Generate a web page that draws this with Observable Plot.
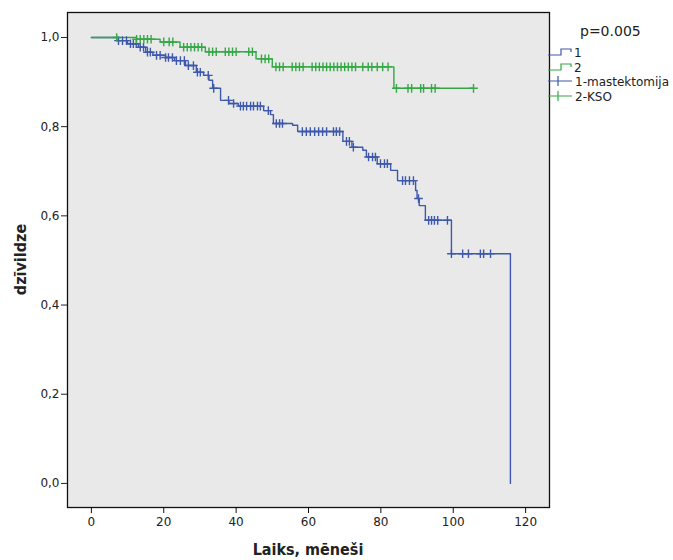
<!DOCTYPE html>
<html><head><meta charset="utf-8">
<script src="https://cdn.jsdelivr.net/npm/d3@7"></script>
<script src="https://cdn.jsdelivr.net/npm/@observablehq/plot@0.6"></script>
<style>body{margin:0;background:#fff;}</style>
</head><body><div id="chart"></div>
<script>
// ---- data ----
const groupNames = ["1-mastektomija", "2-KSO"];
const stepNames = ["1", "2"];
const groupColors = ["#3E58AC", "#34A845"];
const pValueText = "p=0.005";
const xTicks = [0, 20, 40, 60, 80, 100, 120];
const yTicks = [0, 0.2, 0.4, 0.6, 0.8, 1.0];
const xLabel = "Laiks, mēneši";
const yLabel = "dzīvildze";

// group 1: mastektomija — step times and survival
const mastTimes = [0, 7, 10, 13, 15, 17, 20.5, 23, 26, 29, 31, 32.5, 33.5, 35.7, 38, 40.6, 47.6, 49.5, 50.3, 55.6, 57, 69.5, 72, 75, 76, 79, 82.7, 84.6, 89.6, 90, 90.6, 92.3, 99.5, 115.8];
const mastSurv  = [1, 0.993, 0.986, 0.978, 0.967, 0.96, 0.955, 0.948, 0.937, 0.922, 0.915, 0.904, 0.886, 0.859, 0.852, 0.846, 0.836, 0.827, 0.807, 0.803, 0.789, 0.767, 0.754, 0.747, 0.732, 0.717, 0.702, 0.679, 0.657, 0.639, 0.623, 0.59, 0.515, 0];
const mastCensor = [7.5, 8.6, 9.7, 10.8, 11.6, 12.4, 13.5, 14.4, 15.5, 16.3, 18, 19, 20.5, 21.3, 22.4, 23.5, 24.6, 25.7, 26.8, 28.2, 29.3, 30.1, 32.3, 33.8, 37.9, 39.3, 41.2, 42, 42.9, 44, 44.8, 45.9, 46.7, 48.9, 51.1, 52, 52.8, 58.3, 59.4, 60.5, 61.7, 62.8, 63.9, 65, 66.9, 67.7, 68.6, 70.5, 71.3, 72.4, 76.6, 77.7, 78.5, 79.9, 81, 81.8, 86, 86.8, 87.9, 89, 90.4, 93.2, 94, 94.8, 95.7, 98.4, 99.5, 102.6, 104.2, 107.5, 108.4, 110.3];

// group 2: KSO
const ksoTimes = [0, 12.5, 19, 24.5, 31.5, 45.5, 50, 83.6, 105.6];
const ksoSurv  = [1, 0.996, 0.99, 0.978, 0.968, 0.952, 0.934, 0.886, 0.886];
const ksoCensor = [7, 12.5, 13.5, 14.5, 15.5, 16.5, 20, 21.5, 22.5, 25.5, 26.5, 27.5, 28.5, 29.5, 30.5, 32.5, 33.5, 34.5, 37, 38, 39, 40, 43.5, 44.5, 47, 48, 49, 51, 52, 53, 55.5, 56.5, 57.5, 58.5, 61, 62, 63, 64, 65, 66, 67, 68, 69, 70, 71, 72, 73, 75, 76.5, 77.5, 79, 80.5, 82, 84.3, 87.5, 88.5, 91, 91.8, 94, 95, 105.6];

// ---- build tables ----
function steps(times, surv, g) { return times.map((t, i) => ({t, s: surv[i], g})); }
function censored(times, surv, cens, g) {
  return cens.map(c => {
    let s = surv[0];
    for (let i = 0; i < times.length; i++) if (times[i] <= c) s = surv[i];
    return {t: c, s, g};
  });
}
const curveData = [...steps(mastTimes, mastSurv, groupNames[0]), ...steps(ksoTimes, ksoSurv, groupNames[1])];
const censorData = [...censored(mastTimes, mastSurv, mastCensor, groupNames[0]), ...censored(ksoTimes, ksoSurv, ksoCensor, groupNames[1])];

const W = 673, H = 560, mL = 67, mR = 124, mT = 12, mB = 53;
const color = {domain: groupNames, range: groupColors};

const chart = Plot.plot({
  width: W, height: H,
  marginLeft: mL, marginRight: mR, marginTop: mT, marginBottom: mB,
  style: {fontFamily: "DejaVu Sans", fontSize: "12px", background: "#fff", color: "#222", overflow: "visible"},
  x: {domain: [-6.6, 126.6], ticks: xTicks, label: null},
  y: {domain: [-0.054, 1.056], ticks: yTicks, label: null, tickFormat: d => d.toFixed(1).replace(".", ",")},
  color,
  marks: [
    Plot.frame({fill: "#e9e9e9", stroke: "none"}),
    Plot.line(curveData, {x: "t", y: "s", z: "g", stroke: "g", curve: "step-after", strokeWidth: 1.4}),
    Plot.dot(censorData, {x: "t", y: "s", stroke: "g", symbol: "plus", r: 2.9, strokeWidth: 1.4}),
    Plot.frame({stroke: "#111", strokeWidth: 1.3}),
    Plot.axisX({ticks: xTicks, tickSize: 6, tickPadding: 4, label: null, stroke: "#111"}),
    Plot.axisY({ticks: yTicks, tickSize: 6, tickPadding: 2, label: null, tickFormat: d => d.toFixed(1).replace(".", ",")})
  ]
});
document.getElementById("chart").appendChild(chart);

// ---- titles and legend ----
const svg = d3.select(chart);
svg.append("text").attr("x", mL + (W - mL - mR) / 2).attr("y", 555)
  .attr("text-anchor", "middle").attr("font-family", "DejaVu Sans Condensed").attr("font-weight", "bold")
  .attr("font-size", 16).attr("fill", "#222").text(xLabel);
svg.append("text").attr("transform", `translate(26,${mT + (H - mT - mB) / 2}) rotate(-90)`)
  .attr("text-anchor", "middle").attr("font-family", "DejaVu Sans Condensed").attr("font-weight", "bold")
  .attr("font-size", 16).attr("fill", "#222").text(yLabel);

const lg = svg.append("g").attr("font-family", "DejaVu Sans").attr("fill", "#222").attr("text-anchor", "start");
lg.append("text").attr("x", 580).attr("y", 36).attr("font-size", 14).attr("text-anchor", "start").text(pValueText);
const rowY = [52, 67, 81, 96];
stepNames.forEach((n, i) => {
  const y = rowY[i];
  lg.append("path").attr("d", `M548,${y + 3}H561V${y - 3}H571V${y}`)
    .attr("fill", "none").attr("stroke", groupColors[i]).attr("stroke-width", 1.2);
  lg.append("text").attr("x", 574).attr("y", y + 4.5).attr("font-size", 12).attr("text-anchor", "start").text(n);
});
groupNames.forEach((n, i) => {
  const y = rowY[i + 2];
  lg.append("path").attr("d", `M548,${y}H572M558,${y - 5}V${y + 5}`)
    .attr("fill", "none").attr("stroke", groupColors[i]).attr("stroke-width", 1.2);
  lg.append("text").attr("x", 575).attr("y", y + 4.5).attr("font-size", 12).attr("text-anchor", "start").text(n);
});
</script>
</body></html>
